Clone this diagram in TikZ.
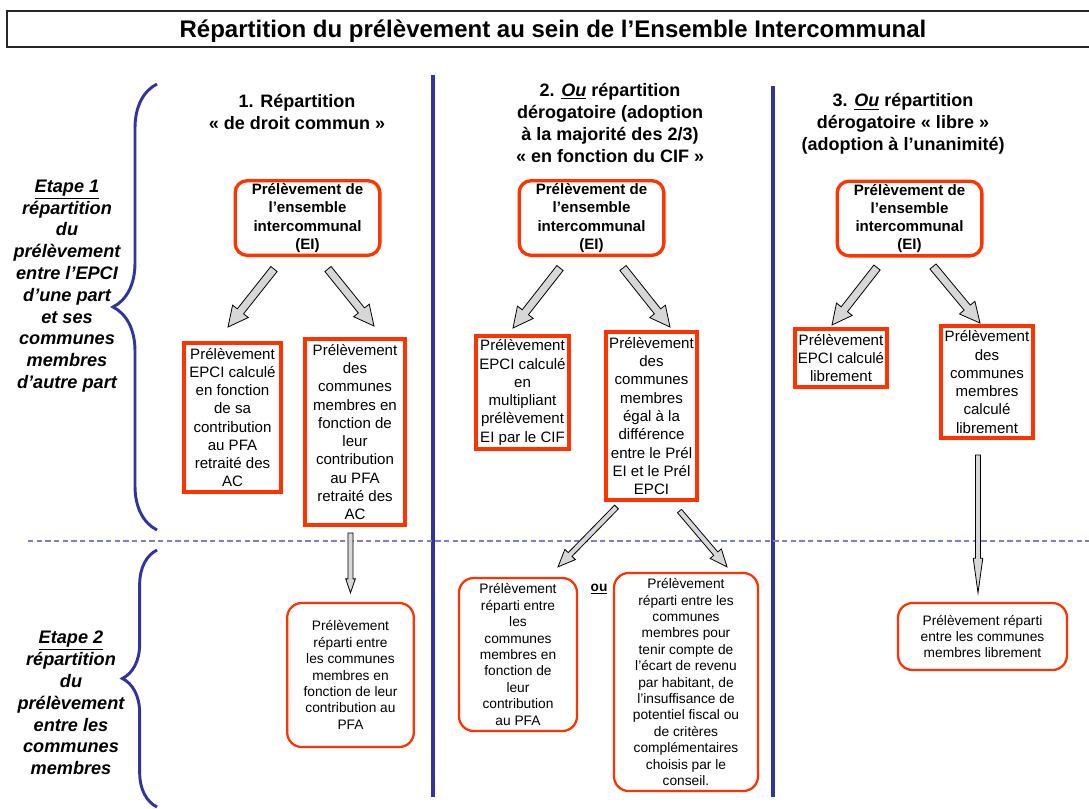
\documentclass[tikz,border=0pt]{standalone}
\usepackage{fontspec}
\setmainfont{Liberation Sans}
\usetikzlibrary{
  calc,                     % Calculations $...$
  positioning,
  decorations.pathreplacing % Brace
}
\definecolor{prelred}{RGB}{255,51,0}
\definecolor{lineblue}{RGB}{51,51,160}
\definecolor{dashblue}{RGB}{125,125,204}
\definecolor{arrowgray}{RGB}{215,215,215}
\newcommand{\hdrfont}{\bfseries\fontsize{13.5}{16.5}\selectfont}
\newcommand{\etapefont}{\bfseries\itshape\fontsize{13.6}{16.35}\selectfont}
\newcommand{\boxfont}{\fontsize{11.3}{13.7}\selectfont}
\newcommand{\smallboxfont}{\fontsize{10.3}{12.3}\selectfont}
% Block arrow: shaft half width, head half width, head length, from, to
\newcommand{\fatarrow}[5]{
  \draw[fat arrow] let \p1=(#4), \p2=(#5), \p3=($(\p2)!#3!(\p1)$) in
    ($(\p1)!#1!90:(\p2)$) -- ($(\p3)!#1!90:(\p2)$) -- ($(\p3)!#2!90:(\p2)$)
    -- (\p2) -- ($(\p3)!#2!-90:(\p2)$) -- ($(\p3)!#1!-90:(\p2)$)
    -- ($(\p1)!#1!-90:(\p2)$) -- cycle;
}
\tikzset{
  x=0.75pt,
  y=-0.75pt,
  boxsize/.style 2 args={
    minimum width=#1,
    minimum height=#2
  },
  title box/.style={
    draw=black!85,
    line width=1.4pt,
    font=\bfseries\fontsize{18}{21}\selectfont,
    text depth=0pt,
    boxsize={819pt}{27.5pt}
  },
  hdr/.style={
    align=center,
    font=\hdrfont
  },
  etape/.style={
    align=center,
    font=\etapefont
  },
  ei/.style={
    draw=prelred,
    line width=2.5pt,
    rounded corners=9pt,
    align=center,
    inner sep=1pt,
    font=\bfseries\boxfont,
    boxsize={108.5pt}{56pt}
  },
  sq/.style={
    draw=prelred,
    line width=3pt,
    align=center,
    inner sep=1pt,
    font=\boxfont
  },
  rnd/.style={
    draw=prelred,
    line width=1.7pt,
    rounded corners=11pt,
    align=center,
    inner sep=1pt,
    font=\smallboxfont
  },
  fat arrow/.style={
    draw=black,
    fill=arrowgray,
    line width=0.6pt,
    line join=miter
  },
  divider/.style={
    draw=lineblue,
    line width=3pt
  },
  dash line/.style={
    draw=dashblue,
    line width=1.5pt,
    dash pattern=on 4pt off 2.5pt
  },
  brace line/.style={
    draw=lineblue,
    line width=2.2pt,
    decorate,
    decoration={brace,amplitude=#1}
  }
}

\begin{document}
\begin{tikzpicture}
\useasboundingbox (0,0) rectangle (1089,808);
\node[title box] (title) at (553,29)
  {Répartition du prélèvement au sein de l’Ensemble Intercommunal};

% columns and steps
\draw[divider] (432.5,75) -- (432.5,797);
\draw[divider] (773,86) -- (773,797);
\draw[dash line] (28,541) -- (1089,541);
\draw[brace line=33pt] (157,530) -- (157,84);
\draw[brace line=26pt] (157,807) -- (157,550);

\node[etape] (e1) at (67,286) {\underline{Etape 1}\\répartition\\du\\prélèvement\\entre l’EPCI\\d’une part\\et ses\\communes\\membres\\d’autre part};
\node[etape] (e2) at (71,703) {\underline{Etape 2}\\répartition\\du\\prélèvement\\entre les\\communes\\membres};

\node[hdr] (h1) at (297,112) {1. Répartition\\« de droit commun »};
\node[hdr] (h2) at (610,123) {2. \underline{\textit{Ou}} répartition\\dérogatoire (adoption\\à la majorité des 2/3)\\« en fonction du CIF »};
\node[hdr] (h3) at (903,124) {3. \underline{\textit{Ou}} répartition\\dérogatoire « libre »\\(adoption à l’unanimité)};

% column 1
\node[ei]                            (ei1) at (307.5,218) {Prélèvement de\\l’ensemble\\intercommunal\\(EI)};
\node[sq,boxsize={72.75pt}{111.75pt}] (ep1) at (232.5,417.5) {Prélèvement\\EPCI calculé\\en fonction\\de sa\\contribution\\au PFA\\retraité des\\AC};
\node[sq,boxsize={75pt}{139.5pt}]    (cm1) at (355,432) {Prélèvement\\des\\communes\\membres en\\fonction de\\leur\\contribution\\au PFA\\retraité des\\AC};
\node[rnd,boxsize={95pt}{108pt}]     (bt1) at (350.5,675) {Prélèvement\\réparti entre\\les communes\\membres en\\fonction de leur\\contribution au\\PFA};

% column 2
\node[ei]                            (ei2) at (591.5,218) {Prélèvement de\\l’ensemble\\intercommunal\\(EI)};
\node[sq,boxsize={69.75pt}{84.75pt}] (ep2) at (522.5,392.5) {Prélèvement\\EPCI calculé\\en\\multipliant\\prélèvement\\EI par le CIF};
\node[sq,boxsize={68.25pt}{126pt}]   (cm2) at (651.5,416) {Prélèvement\\des\\communes\\membres\\égal à la\\différence\\entre le Prél\\EI et le Prél\\EPCI};
\node[rnd,boxsize={88.5pt}{114.75pt}] (bl2) at (518,654.5) {Prélèvement\\réparti entre\\les\\communes\\membres en\\fonction de\\leur\\contribution\\au PFA};
\node[rnd,boxsize={108pt}{163.5pt}]  (br2) at (686,682) {Prélèvement\\réparti entre les\\communes\\membres pour\\tenir compte de\\l’écart de revenu\\par habitant, de\\l’insuffisance de\\potentiel fiscal ou\\de critères\\complémentaires\\choisis par le\\conseil.};
\node[font=\bfseries\smallboxfont] (ou) at (599,589) {\underline{ou}};

% column 3
\node[ei]                            (ei3) at (909.5,218.5) {Prélèvement de\\l’ensemble\\intercommunal\\(EI)};
\node[sq,boxsize={69pt}{43.5pt}]     (ep3) at (841,358) {Prélèvement\\EPCI calculé\\librement};
\node[sq,boxsize={69pt}{84pt}]       (cm3) at (987,382) {Prélèvement\\des\\communes\\membres\\calculé\\librement};
\node[rnd,boxsize={126.75pt}{50.25pt}] (bt3) at (982.5,636.5) {Prélèvement réparti\\entre les communes\\membres librement};

% arrows
\fatarrow{3pt}{7.5pt}{15pt}{$(ei1.south)+(-33.5,12)$}{$(ep1.north)+(-4.5,-14)$}
\fatarrow{3pt}{7.5pt}{15pt}{$(ei1.south)+(20.5,12)$}{$(cm1.north)+(19,-11)$}
\fatarrow{1.9pt}{3.6pt}{10.5pt}{$(cm1.south)+(-4.5,6)$}{$(bt1.north)+(0,-9)$}
\fatarrow{3pt}{7.5pt}{15pt}{$(ei2.south)+(-31.5,11)$}{$(ep2.north)+(-9.5,-6)$}
\fatarrow{3pt}{7.5pt}{15pt}{$(ei2.south)+(31.5,11)$}{$(cm2.north)+(18.5,-3)$}
\fatarrow{2pt}{5.5pt}{13pt}{$(cm2.south)+(-35,5)$}{$(bl2.north)+(40,-10)$}
\fatarrow{2pt}{5.5pt}{13pt}{$(cm2.south)+(28,9)$}{$(br2.north)+(41,-5)$}
\fatarrow{3pt}{7.5pt}{15pt}{$(ei3.south)+(-32.5,10)$}{$(ep3.north)+(-9,-2)$}
\fatarrow{3pt}{7.5pt}{15pt}{$(ei3.south)+(23.5,9)$}{$(cm3.north)+(-7,-1)$}
\fatarrow{1.9pt}{3.6pt}{26pt}{$(cm3.south)+(-9,15)$}{$(bt3.north)+(-4.5,-9)$}
\end{tikzpicture}
\end{document}
